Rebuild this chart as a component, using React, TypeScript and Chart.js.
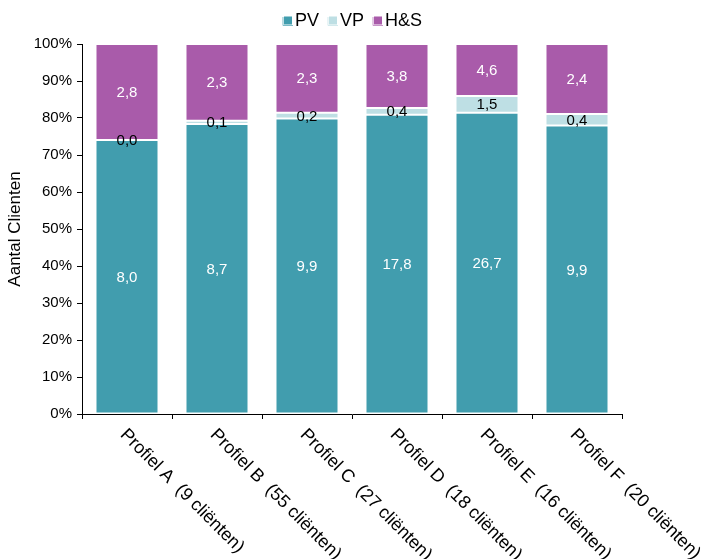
import React, { useEffect, useRef } from 'react';
import { Chart, registerables } from 'chart.js';

Chart.register(...registerables);

const categories = ['Profiel A', 'Profiel B', 'Profiel C', 'Profiel D', 'Profiel E', 'Profiel F'];
const clientCounts = ['(9 cliënten)', '(55 cliënten)', '(27 cliënten)', '(18 cliënten)', '(16 cliënten)', '(20 cliënten)'];
const pvValues = [8.0, 8.7, 9.9, 17.8, 26.7, 9.9];
const vpValues = [0.0, 0.1, 0.2, 0.4, 1.5, 0.4];
const hsValues = [2.8, 2.3, 2.3, 3.8, 4.6, 2.4];
const seriesNames = ['PV', 'VP', 'H&S'];
const yTitle = 'Aantal Clienten';

const FONT = '"Liberation Sans", Arial, sans-serif';
const colors = ['#419DAE', '#BEDFE4', '#A95BAA'];
const lineColors = ['#7DBCC8', '#D3EAED', '#C896C9'];
const labelColors = ['#FFFFFF', '#000000', '#FFFFFF'];

const totals = categories.map((_, i) => pvValues[i] + vpValues[i] + hsValues[i]);
const pct = (arr: number[]) => arr.map((v, i) => (v / totals[i]) * 100);
const rawSeries = [pvValues, vpValues, hsValues];

const valueLabelPlugin = {
  id: 'valueLabels',
  afterDatasetsDraw(chart: any) {
    const ctx = chart.ctx;
    ctx.save();
    ctx.font = `15px ${FONT}`;
    ctx.textAlign = 'center';
    ctx.textBaseline = 'middle';
    chart.data.datasets.forEach((ds: any, di: number) => {
      const meta = chart.getDatasetMeta(di);
      meta.data.forEach((bar: any, i: number) => {
        const v = rawSeries[di][i];
        const y = (bar.y + bar.base) / 2;
        ctx.fillStyle = labelColors[di];
        ctx.fillText(v.toFixed(1).replace('.', ','), bar.x, y + 1);
      });
    });
    ctx.restore();
  },
};

const xLabelPlugin = {
  id: 'xLabels',
  afterDraw(chart: any) {
    const ctx = chart.ctx;
    const xs = chart.scales.x;
    ctx.save();
    ctx.font = `18px ${FONT}`;
    ctx.fillStyle = '#000';
    ctx.textAlign = 'left';
    ctx.textBaseline = 'middle';
    categories.forEach((c, i) => {
      const x = xs.getPixelForValue(i);
      ctx.save();
      ctx.translate(x - 4, xs.top + 18);
      ctx.rotate(Math.PI / 4);
      ctx.fillText(`${c}  ${clientCounts[i]}`, 0, 0);
      ctx.restore();
    });
    ctx.restore();
  },
};

const legendPlugin = {
  id: 'customLegend',
  afterDraw(chart: any) {
    const ctx = chart.ctx;
    ctx.save();
    ctx.font = `18px ${FONT}`;
    ctx.textBaseline = 'alphabetic';
    ctx.textAlign = 'left';
    const box = 8;
    const gap = 3;
    const spacing = 10;
    const widths = seriesNames.map((n) => box + gap + ctx.measureText(n).width);
    const total = widths.reduce((a, b) => a + b, 0) + spacing * (seriesNames.length - 1);
    let x = chart.width / 2 - total / 2;
    const baseY = 25.5;
    seriesNames.forEach((n, i) => {
      ctx.fillStyle = colors[i];
      ctx.fillRect(x, 16.5, box, box);
      ctx.strokeStyle = lineColors[i];
      ctx.lineWidth = 1;
      ctx.beginPath();
      ctx.moveTo(x - 1, 17);
      ctx.lineTo(x - 1, 25.5);
      ctx.lineTo(x + box + 1, 25.5);
      ctx.stroke();
      ctx.fillStyle = '#000';
      ctx.fillText(n, x + box + gap, baseY);
      x += widths[i] + spacing;
    });
    ctx.restore();
  },
};

export default function App() {
  const ref = useRef<HTMLCanvasElement | null>(null);
  useEffect(() => {
    if (!ref.current) return;
    const chart = new Chart(ref.current, {
      type: 'bar',
      data: {
        labels: categories,
        datasets: [pvValues, vpValues, hsValues].map((arr, di) => ({
          label: seriesNames[di],
          data: pct(arr),
          backgroundColor: colors[di],
          borderColor: '#FFFFFF',
          borderWidth: 1,
          borderSkipped: false,
          barPercentage: 0.7,
          categoryPercentage: 1,
        })),
      },
      options: {
        responsive: false,
        animation: false,
        layout: { padding: { top: 44, right: 84, left: 0, bottom: 0 } },
        plugins: {
          legend: { display: false },
          tooltip: { enabled: false },
        },
        scales: {
          x: {
            stacked: true,
            ticks: { display: false },
            grid: { display: true, drawOnChartArea: false, drawTicks: true, tickLength: 5, color: '#000', offset: true },
            border: { display: true, color: '#000', width: 1 },
            afterFit(scale: any) { scale.height = 145; },
          },
          y: {
            stacked: true,
            min: 0,
            max: 100,
            ticks: {
              stepSize: 10,
              padding: 5,
              color: '#000',
              font: { family: FONT, size: 15 },
              callback: (v: any) => `${v}%`,
            },
            grid: { display: true, drawOnChartArea: false, drawTicks: true, tickLength: 5, color: '#000' },
            border: { display: true, color: '#000', width: 1 },
            title: {
              display: true,
              text: yTitle,
              color: '#000',
              font: { family: FONT, size: 17 },
              padding: { top: 5, bottom: 4 },
            },
            afterFit(scale: any) { scale.width = 82; },
          },
        },
      },
      plugins: [valueLabelPlugin, xLabelPlugin, legendPlugin],
    });
    return () => chart.destroy();
  }, []);
  return (
    <div style={{ position: 'absolute', left: 0, top: 0, width: 706, height: 559 }}>
      <canvas ref={ref} width={706} height={559} style={{ width: 706, height: 559 }} />
    </div>
  );
}
